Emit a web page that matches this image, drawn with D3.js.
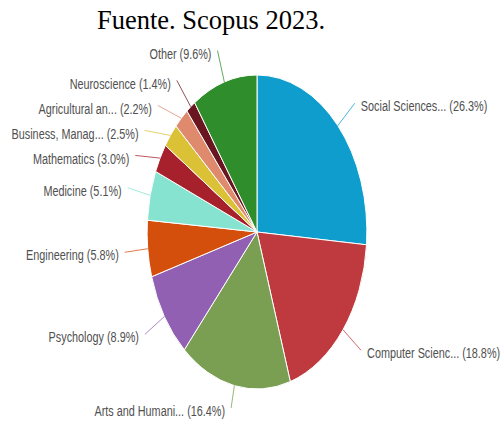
<!DOCTYPE html>
<html>
<head>
<meta charset="utf-8">
<script src="https://cdn.jsdelivr.net/npm/d3@7"></script>
<style>
  html, body { margin: 0; padding: 0; background: #fff; }
  svg { display: block; }
</style>
</head>
<body>
<svg id="chart" width="501" height="428"></svg>
<script>
// Subject areas (Scopus 2023), clockwise from 12 o'clock
const categories = [
  "Social Sciences...", "Computer Scienc...", "Arts and Humani...", "Psychology",
  "Engineering", "Medicine", "Mathematics", "Business, Manag...",
  "Agricultural an...", "Neuroscience", "Other"
];
const shares = [26.3, 18.8, 16.4, 8.9, 5.8, 5.1, 3.0, 2.5, 2.2, 1.4, 9.6];
const palette = [
  "#0f9dcd", "#bf3a3f", "#7a9e52", "#9160b2", "#d44f0b", "#86e3d0",
  "#a6212c", "#dbc135", "#e08a6d", "#6a1621", "#2f8d2b"
];
const titleText = "Fuente. Scopus 2023.";

const svg = d3.select("#chart");
const W = 501, H = 428;
const cx = 257, cy = 232;
const R = 157;        // pie radius (vertical)
const sx = 0.7;       // horizontal squeeze of the whole figure
const R2 = 190;       // radius where leader lines end
const gap = 25;       // minimum vertical spacing between labels
const maxDy = 176;    // lowest a label may sit below the centre

svg.append("rect").attr("width", W).attr("height", H).attr("fill", "#fff");

svg.append("text")
  .attr("x", 211).attr("y", 29)
  .attr("text-anchor", "middle")
  .attr("font-family", "'Liberation Serif', 'Times New Roman', serif")
  .attr("font-size", 26.5)
  .attr("fill", "#000")
  .text(titleText);

const data = categories.map((c, i) => ({ name: c, value: shares[i], color: palette[i] }));
const pie = d3.pie().sort(null).value(d => d.value);
const arcs = pie(data);
const arc = d3.arc().innerRadius(0).outerRadius(R);

const g = svg.append("g").attr("transform", `translate(${cx},${cy}) scale(${sx},1)`);
g.selectAll("path.slice")
  .data(arcs)
  .join("path")
  .attr("class", "slice")
  .attr("d", arc)
  .attr("fill", d => d.data.color)
  .attr("stroke", "#fff")
  .attr("stroke-width", 1)
  .attr("vector-effect", "non-scaling-stroke");

// label layout: radial target, then spread vertically on each side
const labels = arcs.map(a => {
  const m = (a.startAngle + a.endAngle) / 2;
  return {
    a, m,
    side: Math.sin(m) >= 0 ? 1 : -1,
    y: -R2 * Math.cos(m),
    text: `${a.data.name} (${a.data.value.toFixed(1)}%)`,
    color: a.data.color
  };
});
[-1, 1].forEach(side => {
  const group = labels.filter(l => l.side === side).sort((p, q) => p.y - q.y);
  for (let i = 1; i < group.length; i++) {
    if (group[i].y < group[i - 1].y + gap) group[i].y = group[i - 1].y + gap;
  }
});
labels.forEach(l => {
  if (l.y > maxDy) {
    // keep the leader radial but shorten it so the label stays on the page
    l.y = maxDy;
    l.ex = (-Math.sin(l.m) / Math.cos(l.m)) * l.y * sx;
  } else {
    const dy = Math.max(-R2, Math.min(R2, l.y));
    l.ex = l.side * Math.sqrt(R2 * R2 - dy * dy) * sx;
  }
  l.sx0 = Math.sin(l.m) * R * sx;
  l.sy0 = -Math.cos(l.m) * R;
});

const lg = svg.append("g").attr("transform", `translate(${cx},${cy})`);
lg.selectAll("line.leader")
  .data(labels)
  .join("line")
  .attr("class", "leader")
  .attr("x1", d => d.sx0).attr("y1", d => d.sy0)
  .attr("x2", d => d.ex).attr("y2", d => d.y)
  .attr("stroke", d => d.color)
  .attr("stroke-opacity", 0.75)
  .attr("stroke-width", 1);

lg.selectAll("text.lbl")
  .data(labels)
  .join("text")
  .attr("class", "lbl")
  .attr("transform", d => `translate(${d.ex + d.side * 6},${d.y + 4}) scale(${sx},1)`)
  .attr("text-anchor", d => d.side > 0 ? "start" : "end")
  .attr("dominant-baseline", "middle")
  .attr("font-family", "'Liberation Sans', Arial, sans-serif")
  .attr("font-size", 15.5)
  .attr("fill", "#505050")
  .text(d => d.text);
</script>
</body>
</html>
